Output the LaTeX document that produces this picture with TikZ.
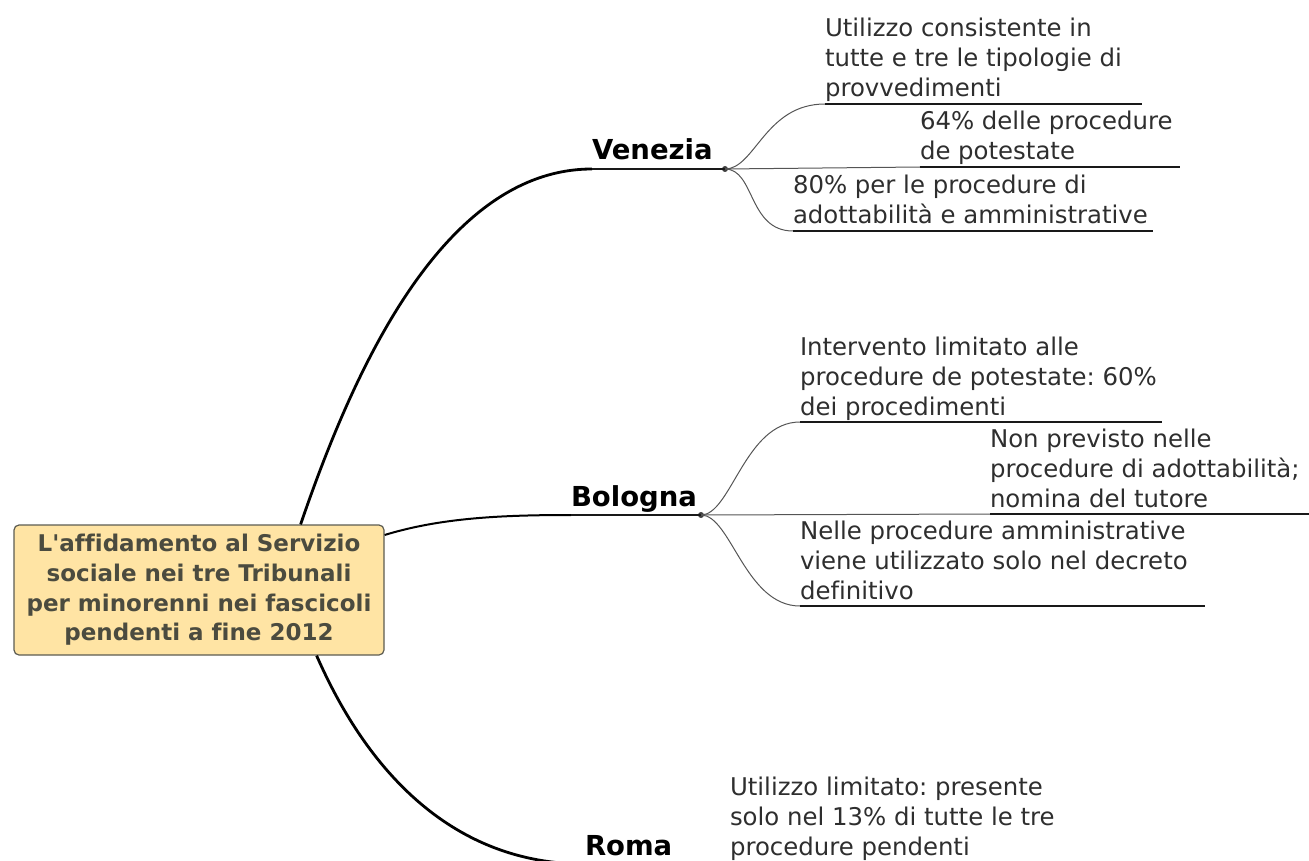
\documentclass[tikz,border=0pt]{standalone}
\usepackage{fontspec}
\setmainfont{DejaVu Sans}[Ligatures=NoCommon]
\definecolor{rootfill}{HTML}{FFE4A4}
\definecolor{rootborder}{HTML}{5C5C52}
\definecolor{roottext}{HTML}{4B4B3F}
\definecolor{leaftext}{HTML}{2E2E2E}
\definecolor{twigcol}{HTML}{555555}
\frenchspacing
\begin{document}
\begin{tikzpicture}[x=1pt,y=-1pt,
  rootbox/.style={draw=rootborder, fill=rootfill, rounded corners=5pt, line width=1.2pt,
    minimum width=370pt, minimum height=130pt, align=center, text=roottext,
    font=\fontsize{23}{29.7}\selectfont\bfseries, inner sep=0pt},
  citylabel/.style={anchor=south west, inner sep=0pt, outer sep=0pt, text depth=9pt,
    font=\fontsize{27.5}{30}\selectfont\bfseries},
  leaf/.style={anchor=south west, inner sep=0pt, outer sep=0pt, align=left, text depth=7pt,
    text=leaftext, font=\fontsize{24.4}{30}\selectfont},
  trunk/.style={line width=2.8pt, draw=black},
  thintrunk/.style={line width=2pt, draw=black},
  twig/.style={line width=1pt, draw=twigcol},
  uline/.style={line width=1.4pt, draw=black!90},
  dotnode/.style={circle, fill=black!75, inner sep=0pt, minimum size=6pt}
]
\useasboundingbox (0,0) rectangle (1309,861);
\clip (0,0) rectangle (1309,861);

% central topic
\node[rootbox] (root) at (199,590) {L\textquotesingle affidamento al Servizio\\sociale nei tre Tribunali\\per minorenni nei fascicoli\\pendenti a fine 2012};

% city labels
\node[citylabel] (ven) at (592,169) {Venezia};
\node[citylabel] (bol) at (571,515) {Bologna};
\node[citylabel] (rom) at (585,864) {Roma};
\node[dotnode] (vdot) at (725,169) {};
\node[dotnode] (bdot) at (701,515) {};

% leaves
\node[leaf] (ven1) at (825,104) {Utilizzo consistente in\\tutte e tre le tipologie di\\provvedimenti};
\node[leaf] (ven2) at (920,167) {64\% delle procedure\\de potestate};
\node[leaf] (ven3) at (793,231) {80\% per le procedure di\\adottabilità e amministrative};
\node[leaf] (bol1) at (800,422) {Intervento limitato alle\\procedure de potestate: 60\%\\dei procedimenti};
\node[leaf] (bol2) at (990,514) {Non previsto nelle\\procedure di adottabilità;\\nomina del tutore};
\node[leaf] (bol3) at (800,606) {Nelle procedure amministrative\\viene utilizzato solo nel decreto\\definitivo};
\node[leaf] (rom1) at (730,862) {Utilizzo limitato: presente\\solo nel 13\% di tutte le tre\\procedure pendenti};

% underline ends
\coordinate (ven1e) at (1142,104);
\coordinate (ven2e) at (1180,167);
\coordinate (ven3e) at (1153,231);
\coordinate (bol1e) at (1162,422);
\coordinate (bol2e) at (1309,514);
\coordinate (bol3e) at (1205,606);

% trunks from the central topic
\draw[trunk] ([xshift=-84pt]root.north east) .. controls (350,380) and (440,169) .. (ven.south west);
\draw[thintrunk] ([yshift=55pt]root.east) .. controls (440,518) and (500,515) .. (bol.south west);
\draw[trunk] ([xshift=-68pt]root.south east) .. controls (345,720) and (420,864) .. (rom.south west);

% city underlines
\draw[uline, line width=1.8pt] (ven.south west) -- (vdot.center);
\draw[uline, line width=1.8pt] (bol.south west) -- (bdot.center);
\draw[uline, line width=1.8pt] (rom.south west) -- ++(150,0);

% Venezia twigs
\draw[twig] (vdot.center) .. controls +(30,0) and +(-60,0) .. (ven1.south west);
\draw[uline] (ven1.south west) -- (ven1e);
\draw[twig] (vdot.center) -- (ven2.south west);
\draw[uline] (ven2.south west) -- (ven2e);
\draw[twig] (vdot.center) .. controls +(30,0) and +(-45,0) .. (ven3.south west);
\draw[uline] (ven3.south west) -- (ven3e);

% Bologna twigs
\draw[twig] (bdot.center) .. controls +(30,0) and +(-55,0) .. (bol1.south west);
\draw[uline] (bol1.south west) -- (bol1e);
\draw[twig] (bdot.center) -- (bol2.south west);
\draw[uline] (bol2.south west) -- (bol2e);
\draw[twig] (bdot.center) .. controls +(30,0) and +(-55,0) .. (bol3.south west);
\draw[uline] (bol3.south west) -- (bol3e);
\end{tikzpicture}
\end{document}
